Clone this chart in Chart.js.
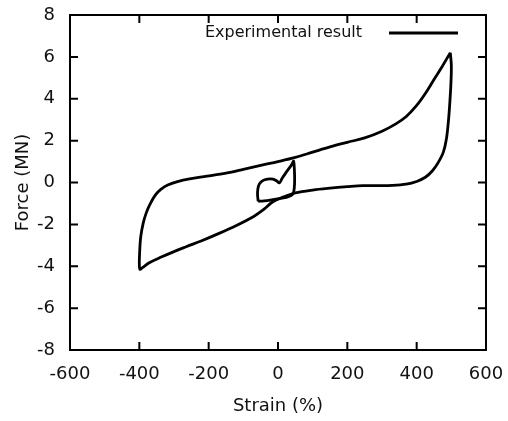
<!DOCTYPE html>
<html>
<head>
<meta charset="utf-8">
<script src="https://cdn.jsdelivr.net/npm/chart.js@4.4.1/dist/chart.umd.min.js"></script>
<style>
html, body { margin: 0; padding: 0; background: #fff; }
#wrap { width: 508px; height: 421px; }
</style>
</head>
<body>
<div id="wrap"><canvas id="hysteresisChart"></canvas></div>
<script>
// values
const outerStrain = [497, 500, 499, 496, 492, 486, 477, 462, 445, 425, 400, 370, 330, 290, 245, 200, 150, 100, 50, 15,
  -15, -42, -70, -120, -170, -220, -265, -300, -335, -370, -390, -398,
  -400, -399, -396, -389, -380, -368, -354, -338, -318, -290, -255, -205, -150, -100, -50,
  0, 50, 100, 150, 200, 250, 300, 340, 370, 400, 425, 450, 475, 497];
const outerForce = [6.2, 5.6, 4.8, 3.9, 3.0, 2.1, 1.45, 0.95, 0.55, 0.25, 0.05, -0.08, -0.14, -0.15, -0.15, -0.2, -0.27, -0.36, -0.5, -0.7,
  -0.92, -1.3, -1.62, -2.05, -2.43, -2.78, -3.07, -3.3, -3.55, -3.82, -4.05, -4.15,
  -3.9, -3.3, -2.6, -1.95, -1.45, -1.0, -0.6, -0.33, -0.12, 0.04, 0.17, 0.3, 0.45, 0.63, 0.82,
  1.0, 1.2, 1.45, 1.7, 1.92, 2.13, 2.45, 2.8, 3.15, 3.68, 4.25, 4.92, 5.58, 6.2];

const innerStrain = [-57, -59, -58, -54, -45, -30, -15, -4, 4, 12, 22, 33, 41, 45, 47, 48, 47, 43, 30, 10, -15, -40, -57];
const innerForce = [-0.9, -0.6, -0.3, -0.08, 0.08, 0.16, 0.16, 0.08, -0.02, 0.2, 0.45, 0.7, 0.9, 1.02, 0.7, 0.2, -0.25, -0.55, -0.68, -0.75, -0.82, -0.88, -0.9];

const strainTicks = [-600, -400, -200, 0, 200, 400, 600];
const forceTicks = [-8, -6, -4, -2, 0, 2, 4, 6, 8];

const toPoints = (xs, ys) => xs.map((x, i) => ({ x: x, y: ys[i] }));

const FONT = '"DejaVu Sans", sans-serif';

// frame, inward ticks on all four sides, and the in-plot legend
const framePlugin = {
  id: 'frame',
  afterDatasetsDraw(chart) {
    const { ctx, chartArea: a, scales: { x, y } } = chart;
    const tl = 8;
    ctx.save();
    ctx.strokeStyle = '#000';
    ctx.lineWidth = 2;
    ctx.beginPath();
    strainTicks.forEach(v => {
      const px = x.getPixelForValue(v);
      ctx.moveTo(px, a.bottom); ctx.lineTo(px, a.bottom - tl);
      ctx.moveTo(px, a.top); ctx.lineTo(px, a.top + tl);
    });
    forceTicks.forEach(v => {
      const py = y.getPixelForValue(v);
      ctx.moveTo(a.left, py); ctx.lineTo(a.left + tl, py);
      ctx.moveTo(a.right, py); ctx.lineTo(a.right - tl, py);
    });
    ctx.stroke();
    ctx.strokeRect(a.left, a.top, a.right - a.left, a.bottom - a.top);

    // legend
    const ly = a.top + 18;
    ctx.fillStyle = '#111';
    ctx.font = '16px ' + FONT;
    ctx.textAlign = 'right';
    ctx.textBaseline = 'middle';
    ctx.fillText('Experimental result', a.right - 124, ly);
    ctx.lineWidth = 2.8;
    ctx.beginPath();
    ctx.moveTo(a.right - 97, ly);
    ctx.lineTo(a.right - 28, ly);
    ctx.stroke();
    ctx.restore();
  }
};

document.addEventListener("DOMContentLoaded", function () {
  const ctx = document.getElementById('hysteresisChart').getContext('2d');

  const lineStyle = {
    showLine: true,
    borderColor: '#000',
    backgroundColor: '#000',
    borderWidth: 2.8,
    pointRadius: 0,
    tension: 0.35,
    fill: false
  };

  new Chart(ctx, {
    type: 'scatter',
    data: {
      datasets: [
        Object.assign({ label: 'Experimental result', data: toPoints(outerStrain, outerForce) }, lineStyle),
        Object.assign({ label: 'inner', data: toPoints(innerStrain, innerForce) }, lineStyle)
      ]
    },
    options: {
      responsive: true,
      maintainAspectRatio: false,
      animation: false,
      layout: { padding: { left: 0, right: 22, top: 15, bottom: 0 } },
      plugins: {
        legend: { display: false },
        tooltip: { enabled: false }
      },
      scales: {
        x: {
          type: 'linear',
          min: -600,
          max: 600,
          afterBuildTicks: s => { s.ticks = strainTicks.map(v => ({ value: v })); },
          afterFit: s => { s.height = 71; s.paddingLeft = 0; s.paddingRight = 0; },
          grid: { display: false, drawTicks: false },
          border: { display: false },
          ticks: { color: '#111', font: { family: FONT, size: 18 }, padding: 14, maxRotation: 0 },
          title: { display: true, text: 'Strain (%)', color: '#111', font: { family: FONT, size: 18 }, padding: { top: 0, bottom: 4 } }
        },
        y: {
          type: 'linear',
          min: -8,
          max: 8,
          afterBuildTicks: s => { s.ticks = forceTicks.map(v => ({ value: v })); },
          afterFit: s => { s.width = 70; s.paddingTop = 0; s.paddingBottom = 0; },
          grid: { display: false, drawTicks: false },
          border: { display: false },
          ticks: { color: '#111', font: { family: FONT, size: 18 }, padding: 15 },
          title: { display: true, text: 'Force (MN)', color: '#111', font: { family: FONT, size: 18 }, padding: { top: 13, bottom: 0 } }
        }
      }
    },
    plugins: [framePlugin]
  });
});
</script>
</body>
</html>
